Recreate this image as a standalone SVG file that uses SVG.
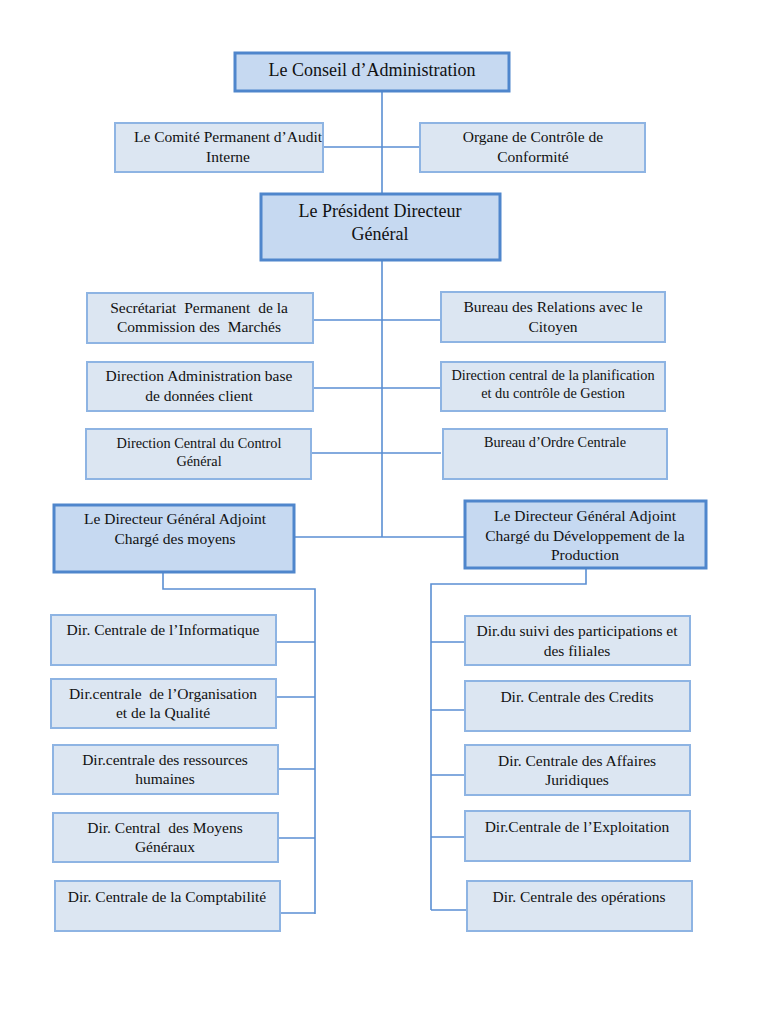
<svg xmlns="http://www.w3.org/2000/svg" width="768" height="1024" viewBox="0 0 768 1024">
<style>
.b{fill:#dce6f2;stroke:#8eb4e3;stroke-width:2}
.m{fill:#c6d9f1;stroke:#4f86cc;stroke-width:3}
.t{font-family:"Liberation Serif","DejaVu Serif","Times New Roman",serif;font-size:15.5px;fill:#111;text-anchor:middle;white-space:pre}
.tl{font-size:18px}
.ts{font-size:14.3px}
.c{fill:none;stroke:#5b8fd3;stroke-width:1.6}
</style>
<rect width="768" height="1024" fill="#fff"/>
<g id="connectors">
<path class="c" d="M382 91V537M323 147H420M313 320H441M313 388H441M311 453H441M294 537H465"/>
<path class="c" d="M163 572V589H315V914M276 642H315M276 697H315M278 769H315M278 838H315M280 913H315"/>
<path class="c" d="M586 568V584H431V910M431 642H465M431 710H465M431 775H465M431 837H465M431 910H467"/>
</g>
<g id="conseil"><rect class="m" x="235" y="53" width="274" height="38"/><text class="t tl" x="372" y="76">Le Conseil d’Administration</text></g>
<g id="comite"><rect class="b" x="115" y="123" width="208" height="49"/><text class="t" x="228" y="142">Le Comité Permanent d’Audit</text><text class="t" x="228" y="162">Interne</text></g>
<g id="organe"><rect class="b" x="420" y="123" width="225" height="49"/><text class="t" x="533" y="142">Organe de Contrôle de</text><text class="t" x="533" y="162">Conformité</text></g>
<g id="pdg"><rect class="m" x="261" y="194" width="239" height="66"/><text class="t tl" x="380" y="217">Le Président Directeur</text><text class="t tl" x="380" y="240">Général</text></g>
<g id="secretariat"><rect class="b" x="87" y="293" width="226" height="50"/><text class="t" x="199" y="313">Secrétariat  Permanent  de la</text><text class="t" x="199" y="332">Commission des  Marchés</text></g>
<g id="bureau-relations"><rect class="b" x="441" y="292" width="224" height="50"/><text class="t" x="553" y="312">Bureau des Relations avec le</text><text class="t" x="553" y="332">Citoyen</text></g>
<g id="dir-admin"><rect class="b" x="87" y="362" width="226" height="49"/><text class="t" x="199" y="381">Direction Administration base</text><text class="t" x="199" y="401">de données client</text></g>
<g id="dir-plan"><rect class="b" x="441" y="362" width="224" height="49"/><text class="t ts" x="553" y="380">Direction central de la planification</text><text class="t ts" x="553" y="398">et du contrôle de Gestion</text></g>
<g id="dir-control"><rect class="b" x="86" y="429" width="225" height="50"/><text class="t ts" x="199" y="448">Direction Central du Control</text><text class="t ts" x="199" y="466">Général</text></g>
<g id="bureau-ordre"><rect class="b" x="443" y="429" width="224" height="50"/><text class="t ts" x="555" y="447">Bureau d’Ordre Centrale</text></g>
<g id="dga-moyens"><rect class="m" x="54" y="505" width="240" height="67"/><text class="t" x="175" y="524">Le Directeur Général Adjoint</text><text class="t" x="175" y="544">Chargé des moyens</text></g>
<g id="dga-prod"><rect class="m" x="465" y="501" width="241" height="67"/><text class="t" x="585" y="521">Le Directeur Général Adjoint</text><text class="t" x="585" y="541">Chargé du Développement de la</text><text class="t" x="585" y="560">Production</text></g>
<g id="dir-info"><rect class="b" x="51" y="615" width="225" height="50"/><text class="t" x="163" y="635">Dir. Centrale de l’Informatique</text></g>
<g id="dir-org"><rect class="b" x="51" y="679" width="225" height="49"/><text class="t" x="163" y="699">Dir.centrale  de l’Organisation</text><text class="t" x="163" y="718">et de la Qualité</text></g>
<g id="dir-rh"><rect class="b" x="53" y="745" width="225" height="49"/><text class="t" x="165" y="765">Dir.centrale des ressources</text><text class="t" x="165" y="784">humaines</text></g>
<g id="dir-moyens"><rect class="b" x="53" y="813" width="225" height="49"/><text class="t" x="165" y="833">Dir. Central  des Moyens</text><text class="t" x="165" y="852">Généraux</text></g>
<g id="dir-compta"><rect class="b" x="55" y="881" width="225" height="50"/><text class="t" x="167" y="902">Dir. Centrale de la Comptabilité</text></g>
<g id="dir-suivi"><rect class="b" x="465" y="616" width="225" height="49"/><text class="t" x="577" y="636">Dir.du suivi des participations et</text><text class="t" x="577" y="656">des filiales</text></g>
<g id="dir-credits"><rect class="b" x="465" y="681" width="225" height="50"/><text class="t" x="577" y="702">Dir. Centrale des Credits</text></g>
<g id="dir-juridique"><rect class="b" x="465" y="745" width="225" height="50"/><text class="t" x="577" y="766">Dir. Centrale des Affaires</text><text class="t" x="577" y="785">Juridiques</text></g>
<g id="dir-exploit"><rect class="b" x="465" y="811" width="225" height="50"/><text class="t" x="577" y="832">Dir.Centrale de l’Exploitation</text></g>
<g id="dir-operations"><rect class="b" x="467" y="881" width="225" height="50"/><text class="t" x="579" y="902">Dir. Centrale des opérations</text></g>
</svg>
